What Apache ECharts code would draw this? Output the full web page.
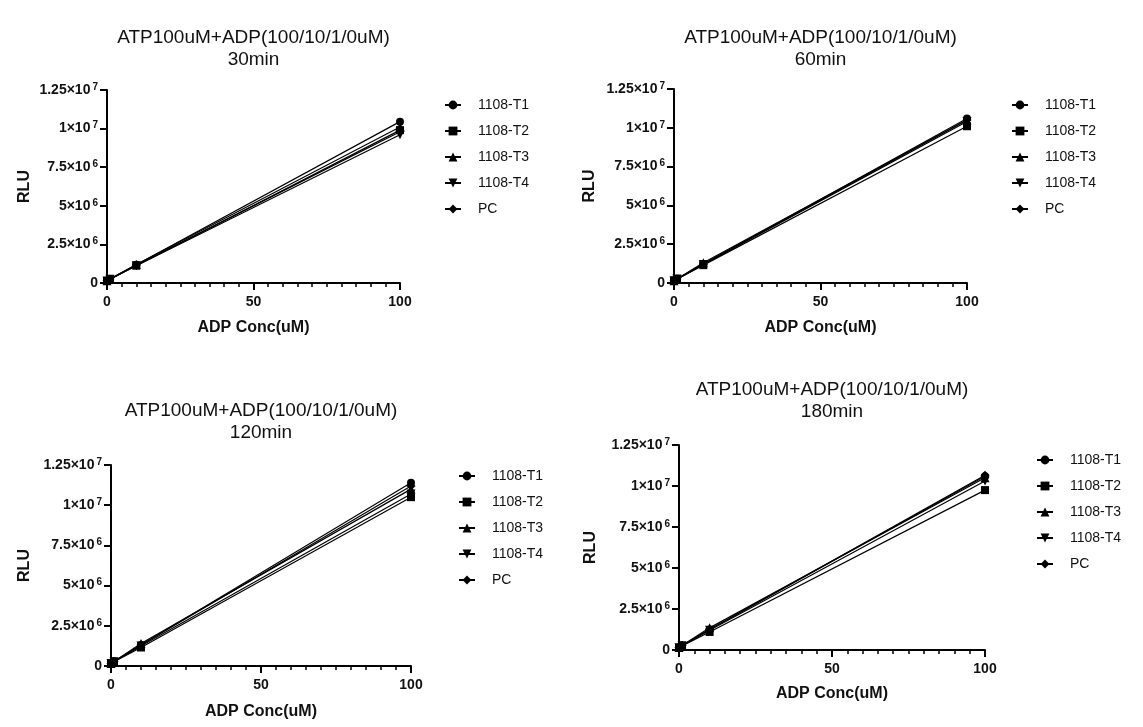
<!DOCTYPE html>
<html>
<head>
<meta charset="utf-8">
<script src="https://cdn.jsdelivr.net/npm/echarts@6/dist/echarts.min.js"></script>
<style>
html,body{margin:0;padding:0;background:#fff;}
#chart{width:1143px;height:727px;}
</style>
</head>
<body>
<div id="chart"></div>
<script>
// ---- data ----
const adpConc = [0, 1, 10, 100];
const seriesNames = ['1108-T1', '1108-T2', '1108-T3', '1108-T4', 'PC'];
const panelTitles = [
  'ATP100uM+ADP(100/10/1/0uM)\n30min',
  'ATP100uM+ADP(100/10/1/0uM)\n60min',
  'ATP100uM+ADP(100/10/1/0uM)\n120min',
  'ATP100uM+ADP(100/10/1/0uM)\n180min'
];
const xTicks = [0, 50, 100];
const yTicks = [0, 2500000, 5000000, 7500000, 10000000, 12500000];

// 30 min
const min30_T1 = [140000, 250000, 1180000, 10450000];
const min30_T2 = [130000, 240000, 1120000, 9900000];
const min30_T3 = [140000, 250000, 1200000, 10100000];
const min30_T4 = [130000, 240000, 1120000, 9600000];
const min30_PC = [150000, 260000, 1160000, 9800000];
// 60 min
const min60_T1 = [150000, 260000, 1220000, 10600000];
const min60_T2 = [140000, 240000, 1150000, 10100000];
const min60_T3 = [150000, 260000, 1300000, 10500000];
const min60_T4 = [140000, 250000, 1200000, 10400000];
const min60_PC = [150000, 260000, 1200000, 10500000];
// 120 min
const min120_T1 = [160000, 280000, 1300000, 11400000];
const min120_T2 = [150000, 260000, 1150000, 10500000];
const min120_T3 = [160000, 280000, 1400000, 11000000];
const min120_T4 = [150000, 270000, 1250000, 10700000];
const min120_PC = [160000, 280000, 1300000, 11200000];
// 180 min
const min180_T1 = [150000, 270000, 1250000, 10600000];
const min180_T2 = [140000, 250000, 1100000, 9750000];
const min180_T3 = [150000, 280000, 1350000, 10500000];
const min180_T4 = [140000, 260000, 1200000, 10300000];
const min180_PC = [150000, 270000, 1250000, 10650000];

const panelData = [
  [min30_T1, min30_T2, min30_T3, min30_T4, min30_PC],
  [min60_T1, min60_T2, min60_T3, min60_T4, min60_PC],
  [min120_T1, min120_T2, min120_T3, min120_T4, min120_PC],
  [min180_T1, min180_T2, min180_T3, min180_T4, min180_PC]
];

// ---- layout ----
const FONT = '"Liberation Sans", Arial, Helvetica, sans-serif';
const grids = [
  {left: 107, top: 90, width: 293, height: 193},
  {left: 674, top: 89, width: 293, height: 194},
  {left: 111, top: 465, width: 300, height: 201},
  {left: 679, top: 445, width: 306, height: 205}
];
const titleTops = [27, 27, 400, 379];
const legendPos = [
  {left: 444, top: 98},
  {left: 1011, top: 98},
  {left: 458, top: 469},
  {left: 1036, top: 453}
];
const yNameGaps = [74, 76, 78, 80];
const xNameGaps = [37, 37, 38, 36];

const symbols = ['circle', 'rect', 'triangle', 'triangle', 'diamond'];
const symbolRot = [0, 0, 0, 180, 0];
const symbolSizes = [8, 8, 9, 9, 9];

function yFmt(v) {
  if (v === 0) return '0';
  const e = Math.floor(Math.log10(v) + 1e-9);
  const m = +(v / Math.pow(10, e)).toFixed(3);
  return m + '×10{sup|' + e + '}';
}

const option = {
  backgroundColor: '#fff',
  animation: false,
  textStyle: {fontFamily: FONT},
  title: [], legend: [], grid: [], xAxis: [], yAxis: [], series: []
};

grids.forEach((g, i) => {
  option.grid.push(Object.assign({containLabel: false}, g));
  option.title.push({
    text: panelTitles[i],
    left: g.left + g.width / 2,
    top: titleTops[i],
    padding: 0,
    textAlign: 'center',
    textStyle: {fontFamily: FONT, fontSize: 19, fontWeight: 'normal', color: '#111', lineHeight: 22}
  });
  option.legend.push({
    data: seriesNames,
    orient: 'vertical',
    left: legendPos[i].left,
    top: legendPos[i].top,
    padding: 0,
    itemWidth: 16,
    itemHeight: 11,
    itemGap: 12,
    selectedMode: false,
    textStyle: {fontFamily: FONT, fontSize: 14, color: '#111', padding: [0, 0, 0, 12]}
  });
  option.xAxis.push({
    type: 'value', gridIndex: i, min: 0, max: 100, interval: 50,
    name: 'ADP Conc(uM)', nameLocation: 'middle', nameGap: xNameGaps[i],
    nameTextStyle: {fontFamily: FONT, fontSize: 16, fontWeight: 'bold', color: '#111'},
    axisLine: {show: true, onZero: false, lineStyle: {color: '#000', width: 2}},
    axisTick: {show: true, length: 7, lineStyle: {color: '#000', width: 2}},
    minorTick: {show: true, splitNumber: 10, length: 4, lineStyle: {color: '#000', width: 1.5}},
    splitLine: {show: false},
    axisLabel: {margin: 12, fontFamily: FONT, fontSize: 14, fontWeight: 'bold', color: '#111',
      customValues: xTicks}
  });
  option.yAxis.push({
    type: 'value', gridIndex: i, min: 0, max: 12500000, interval: 2500000,
    name: 'RLU', nameLocation: 'middle', nameGap: yNameGaps[i], nameRotate: 90,
    nameTextStyle: {fontFamily: FONT, fontSize: 16, fontWeight: 'bold', color: '#111'},
    axisLine: {show: true, onZero: false, lineStyle: {color: '#000', width: 2}},
    axisTick: {show: true, length: 7, lineStyle: {color: '#000', width: 2}},
    splitLine: {show: false},
    axisLabel: {
      margin: 9, fontFamily: FONT, fontSize: 14, fontWeight: 'bold', color: '#111',
      formatter: yFmt,
      rich: {sup: {fontFamily: FONT, fontSize: 10, fontWeight: 'bold', color: '#111',
        verticalAlign: 'top', padding: [0, 0, 6, 2]}}
    }
  });
  seriesNames.forEach((name, k) => {
    option.series.push({
      type: 'line', name: name, xAxisIndex: i, yAxisIndex: i,
      data: adpConc.map((x, j) => [x, panelData[i][k][j]]),
      symbol: symbols[k], symbolRotate: symbolRot[k], symbolSize: symbolSizes[k],
      showAllSymbol: true, clip: false,
      lineStyle: {color: '#000', width: 1.2},
      itemStyle: {color: '#000'},
      emphasis: {disabled: true}
    });
  });
});

const chart = echarts.init(document.getElementById('chart'), null, {renderer: 'canvas'});
chart.setOption(option);
</script>
</body>
</html>
